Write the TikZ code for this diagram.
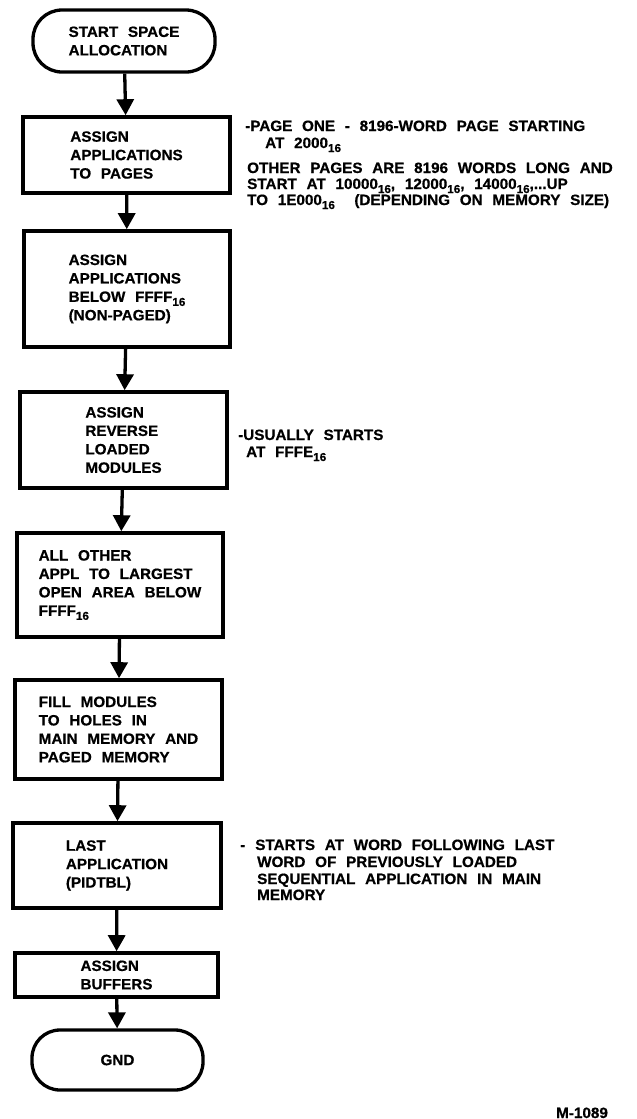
\documentclass[tikz,border=0pt]{standalone}
\usepackage{fontspec}
\setmainfont{Liberation Sans}[FakeStretch=1.02,WordSpace=2.3,FakeBold=0.6]
\usetikzlibrary{arrows.meta}
\newcommand\hsub[1]{\raisebox{-4bp}{\fontsize{11.5}{11.5}\selectfont #1}}
\begin{document}
\begin{tikzpicture}[x=1bp,y=-1bp,
  every node/.style={font=\bfseries\fontsize{15}{18.5}\selectfont, inner sep=0pt},
  procbox/.style={draw, line width=3.6bp, align=left},
  term/.style={draw, line width=3.3bp, rounded corners=29bp, align=left},
  arr/.style={line width=3.3bp, -{Triangle[width=17bp,length=16bp]}},
  note/.style={anchor=base west}]
\useasboundingbox (0,0) rectangle (637,1119);

\node[term, minimum width=182bp, minimum height=62bp] (start) at (124,41) {START SPACE\\ALLOCATION};
\node[procbox, minimum width=207bp, minimum height=76bp] (b1) at (126.5,155) {ASSIGN\\APPLICATIONS\\TO PAGES};
\node[procbox, minimum width=206bp, minimum height=116bp] (b2) at (127,289) {ASSIGN\\APPLICATIONS\\BELOW FFFF\hsub{16}\\(NON-PAGED)};
\node[procbox, minimum width=207bp, minimum height=96bp] (b3) at (123.5,440) {ASSIGN\\REVERSE\\LOADED\\MODULES};
\node[procbox, minimum width=206bp, minimum height=104bp] (b4) at (120,585) {ALL OTHER\\APPL TO LARGEST\\OPEN AREA BELOW\\FFFF\hsub{16}};
\node[procbox, minimum width=207bp, minimum height=99bp] (b5) at (118.5,729.5) {FILL MODULES\\TO HOLES IN\\MAIN MEMORY AND\\PAGED MEMORY};
\node[procbox, minimum width=208bp, minimum height=85bp] (b6) at (117,865.5) {LAST\\APPLICATION\\(PIDTBL)};
\node[procbox, minimum width=203bp, minimum height=44bp] (b7) at (116.5,975) {ASSIGN\\BUFFERS};
\node[term, minimum width=171bp, minimum height=60bp, rounded corners=28bp] (gnd) at (117.5,1060) {GND};

\draw[arr] (start) -- (b1);
\draw[arr] (b1) -- (b2);
\draw[arr] (b2) -- (b3);
\draw[arr] (b3) -- (b4);
\draw[arr] (b4) -- (b5);
\draw[arr] (b5) -- (b6);
\draw[arr] (b6) -- (b7);
\draw[arr] (b7) -- (gnd);

\node[note] (n1a) at (245,131) {-PAGE ONE - 8196-WORD PAGE STARTING};
\node[note] (n1b) at (265,148) {AT 2000\hsub{16}};
\node[note] (n1c) at (247,173) {OTHER PAGES ARE 8196 WORDS LONG AND};
\node[note] (n1d) at (247,189) {START AT 10000\hsub{16}, 12000\hsub{16}, 14000\hsub{16},...UP};
\node[note] (n1e) at (247,205) {TO 1E000\hsub{16}\ \ (DEPENDING ON MEMORY SIZE)};

\node[note] (n3a) at (238,440) {-USUALLY STARTS};
\node[note] (n3b) at (246,457) {AT FFFE\hsub{16}};

\node[note] (n6a) at (240,850) {-\hspace{10bp}STARTS AT WORD FOLLOWING LAST};
\node[note] (n6b) at (257,867) {WORD OF PREVIOUSLY LOADED};
\node[note] (n6c) at (257,884) {SEQUENTIAL APPLICATION IN MAIN};
\node[note] (n6d) at (257,900) {MEMORY};

\node[note] (mark) at (556,1118) {M-1089};
\end{tikzpicture}
\end{document}
